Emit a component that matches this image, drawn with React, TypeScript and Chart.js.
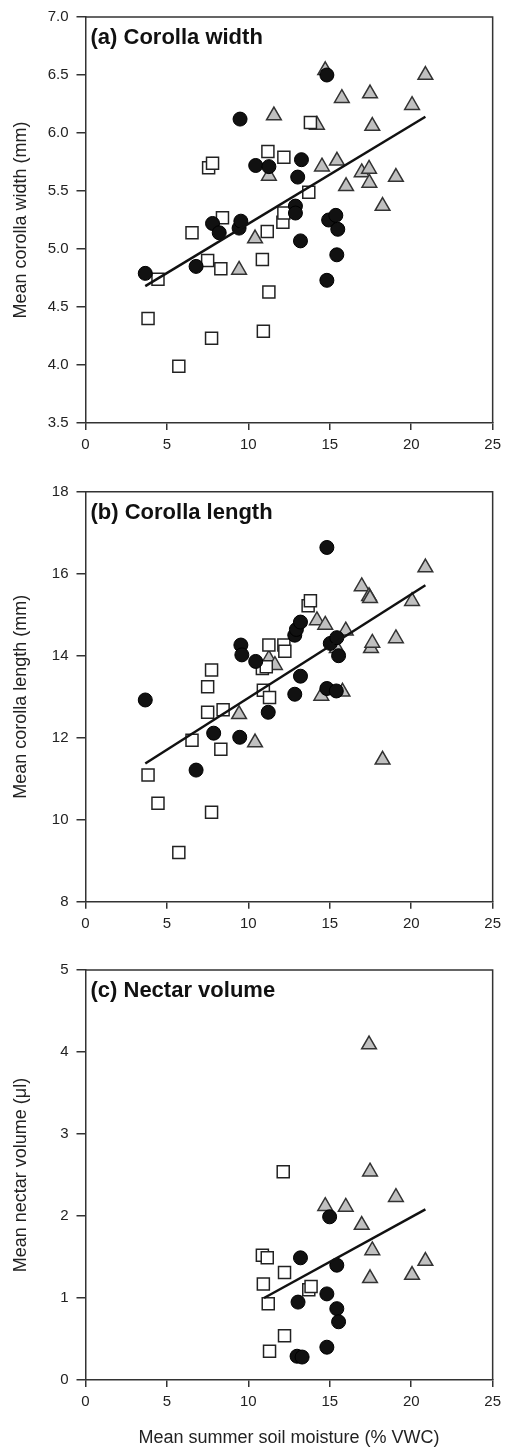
import React, { useEffect, useRef } from 'react';
import { Chart, registerables } from 'chart.js';

Chart.register(...registerables);

const FONT = '"Liberation Sans", Arial, sans-serif';

const xTicks = [0, 5, 10, 15, 20, 25];
const widthTicks = [3.5, 4.0, 4.5, 5.0, 5.5, 6.0, 6.5, 7.0];
const lengthTicks = [8, 10, 12, 14, 16, 18];
const nectarTicks = [0, 1, 2, 3, 4, 5];

// (a) Corolla width
const aCircleX = [3.67, 6.79, 7.8, 8.21, 9.43, 9.54, 9.49, 10.45, 11.26, 12.89, 12.89, 13.03, 13.26, 13.2, 14.82, 14.82, 14.93, 15.37, 15.43, 15.49];
const aCircleY = [4.79, 4.85, 5.22, 5.14, 5.18, 5.24, 6.12, 5.72, 5.71, 5.37, 5.31, 5.62, 5.77, 5.07, 6.5, 4.73, 5.25, 5.29, 4.95, 5.17];
const aSquareX = [3.84, 4.45, 5.73, 6.54, 7.5, 7.56, 7.74, 7.8, 8.31, 8.41, 10.86, 10.92, 11.16, 11.2, 11.26, 12.12, 12.18, 12.18, 13.71, 13.81];
const aSquareY = [4.4, 4.74, 3.99, 5.14, 4.9, 5.7, 4.23, 5.74, 4.83, 5.27, 4.91, 4.29, 5.15, 5.84, 4.63, 5.23, 5.31, 5.79, 5.49, 6.09];
const aTriX = [9.43, 10.41, 11.26, 11.57, 14.21, 14.52, 14.72, 15.44, 15.74, 16.0, 16.96, 17.41, 17.43, 17.47, 17.61, 18.24, 19.06, 20.05, 20.87];
const aTriY = [4.82, 5.09, 5.63, 6.15, 6.07, 5.71, 6.54, 5.76, 6.3, 5.54, 5.66, 5.69, 5.57, 6.34, 6.06, 5.37, 5.62, 6.24, 6.5];
const aFitX = [3.67, 20.87];
const aFitY = [4.68, 6.14];

// (b) Corolla length
const bCircleX = [3.67, 6.79, 7.87, 9.47, 9.54, 9.6, 10.45, 11.22, 12.85, 12.85, 12.95, 13.2, 13.2, 14.82, 14.82, 15.03, 15.4, 15.43, 15.54];
const bCircleY = [12.92, 11.21, 12.11, 12.01, 14.26, 14.02, 13.86, 12.62, 13.06, 14.5, 14.64, 14.82, 13.5, 16.64, 13.2, 14.3, 13.14, 14.44, 14.0];
const bSquareX = [3.84, 4.45, 5.73, 6.54, 7.5, 7.5, 7.74, 7.74, 8.31, 8.45, 10.86, 10.92, 11.1, 11.26, 11.3, 12.18, 12.24, 13.67, 13.81];
const bSquareY = [11.09, 10.4, 9.2, 11.94, 12.62, 13.24, 13.65, 10.18, 11.72, 12.68, 13.69, 13.16, 13.73, 14.26, 12.98, 14.26, 14.11, 15.22, 15.34];
const bTriX = [9.43, 10.41, 11.26, 11.63, 14.21, 14.48, 14.72, 15.43, 15.78, 15.98, 16.96, 17.41, 17.47, 17.53, 17.61, 18.24, 19.06, 20.05, 20.87];
const bTriY = [12.57, 11.88, 13.92, 13.77, 14.86, 13.02, 14.75, 14.18, 13.12, 14.61, 15.69, 15.45, 15.4, 14.18, 14.31, 11.46, 14.42, 15.33, 16.15];
const bFitX = [3.67, 20.87];
const bFitY = [11.37, 15.72];

// (c) Nectar volume
const cCircleX = [12.99, 13.05, 13.2, 13.3, 14.82, 14.82, 14.99, 15.43, 15.43, 15.54];
const cCircleY = [0.29, 0.95, 1.49, 0.28, 0.4, 1.05, 1.99, 1.4, 0.87, 0.71];
const cSquareX = [10.86, 10.92, 11.16, 11.22, 11.3, 12.14, 12.22, 12.22, 13.71, 13.85];
const cSquareY = [1.52, 1.17, 1.49, 0.93, 0.35, 2.54, 1.31, 0.54, 1.1, 1.14];
const cTriX = [14.72, 15.98, 16.96, 17.41, 17.47, 17.47, 17.61, 19.06, 20.05, 20.87];
const cTriY = [2.12, 2.11, 1.89, 4.09, 2.54, 1.24, 1.58, 2.23, 1.28, 1.45];
const cFitX = [10.96, 20.87];
const cFitY = [1.0, 2.08];

const pts = (xs: number[], ys: number[]) => xs.map((x, i) => ({ x, y: ys[i] }));

type PanelProps = {
  top: number;
  height: number;
  padTop: number;
  padBottom: number;
  xAxisH: number;
  label: string;
  yTitle: string;
  yTicks: number[];
  decimals: number;
  circles: { x: number; y: number }[];
  squares: { x: number; y: number }[];
  triangles: { x: number; y: number }[];
  fit: { x: number; y: number }[];
  xTitle?: string;
};

function Panel(p: PanelProps) {
  const ref = useRef<HTMLCanvasElement | null>(null);
  useEffect(() => {
    if (!ref.current) return;
    const framePlugin = {
      id: 'frame',
      beforeDatasetsDraw(chart: any) {
        const { ctx, chartArea } = chart;
        ctx.save();
        ctx.strokeStyle = '#333';
        ctx.lineWidth = 1.5;
        ctx.beginPath();
        ctx.moveTo(chartArea.left, chartArea.top);
        ctx.lineTo(chartArea.right, chartArea.top);
        ctx.lineTo(chartArea.right, chartArea.bottom);
        ctx.stroke();
        ctx.restore();
      },
      afterDraw(chart: any) {
        const { ctx, chartArea } = chart;
        ctx.save();
        ctx.fillStyle = '#111';
        ctx.font = 'bold 22px ' + FONT;
        ctx.textAlign = 'left';
        ctx.textBaseline = 'alphabetic';
        ctx.fillText(p.label, chartArea.left + 5, chartArea.top + 27);
        ctx.restore();
      },
    };
    const chart = new Chart(ref.current, {
      type: 'scatter',
      data: {
        datasets: [
          {
            data: p.fit,
            showLine: true,
            borderColor: '#111',
            borderWidth: 2.5,
            pointRadius: 0,
            fill: false,
          } as any,
          {
            data: p.circles,
            pointStyle: 'circle',
            pointRadius: 7,
            backgroundColor: '#111',
            borderColor: '#000',
            borderWidth: 1,
          },
          {
            data: p.squares,
            pointStyle: 'rect',
            pointRadius: 8.5,
            backgroundColor: '#fff',
            borderColor: '#222',
            borderWidth: 1.5,
          },
          {
            data: p.triangles,
            pointStyle: 'triangle',
            pointRadius: 8.5,
            backgroundColor: '#c0c0c0',
            borderColor: '#333',
            borderWidth: 1.5,
          },
        ],
      },
      options: {
        animation: false,
        responsive: false,
        devicePixelRatio: 1,
        layout: { padding: { top: p.padTop, bottom: p.padBottom, left: 6, right: 12 } },
        plugins: { legend: { display: false }, tooltip: { enabled: false } },
        scales: {
          x: {
            type: 'linear',
            min: 0,
            max: 25,
            afterBuildTicks: (ax: any) => {
              ax.ticks = xTicks.map((v) => ({ value: v }));
            },
            afterFit: (ax: any) => {
              ax.height = p.xAxisH;
            },
            ticks: {
              color: '#222',
              font: { family: FONT, size: 15 },
              padding: 6,
              maxRotation: 0,
              autoSkip: false,
              callback: (v: any) => String(v),
            },
            grid: { display: true, drawOnChartArea: false, drawTicks: true, tickLength: 7, color: '#333', lineWidth: 1.5 },
            border: { display: true, color: '#333', width: 1.5 },
            title: {
              display: !!p.xTitle,
              text: p.xTitle || '',
              color: '#222',
              font: { family: FONT, size: 18 },
              padding: { top: 0, bottom: 3 },
            },
          },
          y: {
            type: 'linear',
            min: p.yTicks[0],
            max: p.yTicks[p.yTicks.length - 1],
            afterBuildTicks: (ax: any) => {
              ax.ticks = p.yTicks.map((v) => ({ value: v }));
            },
            afterFit: (ax: any) => {
              ax.width = 79.5;
            },
            ticks: {
              color: '#222',
              font: { family: FONT, size: 15 },
              padding: 8,
              autoSkip: false,
              callback: (v: any) => Number(v).toFixed(p.decimals),
            },
            grid: { display: true, drawOnChartArea: false, drawTicks: true, tickLength: 9, color: '#333', lineWidth: 1.5 },
            border: { display: true, color: '#333', width: 1.5 },
            title: {
              display: true,
              text: p.yTitle,
              color: '#222',
              font: { family: FONT, size: 18 },
              padding: { top: 4, bottom: 0 },
            },
          },
        },
      } as any,
      plugins: [framePlugin],
    });
    return () => chart.destroy();
  }, []);
  return (
    <canvas
      ref={ref}
      width={507}
      height={p.height}
      style={{ position: 'absolute', left: 0, top: p.top, width: 507, height: p.height, display: 'block' }}
    />
  );
}

export default function App() {
  return (
    <div style={{ position: 'absolute', left: 0, top: 0, width: 507, height: 1452, background: '#fff', overflow: 'hidden' }}>
      <Panel
        top={0}
        height={460}
        padTop={14}
        padBottom={7}
        xAxisH={30}
        label="(a) Corolla width"
        yTitle="Mean corolla width (mm)"
        yTicks={widthTicks}
        decimals={1}
        circles={pts(aCircleX, aCircleY)}
        squares={pts(aSquareX, aSquareY)}
        triangles={pts(aTriX, aTriY)}
        fit={pts(aFitX, aFitY)}
      />
      <Panel
        top={460}
        height={480}
        padTop={31.7}
        padBottom={8.3}
        xAxisH={30}
        label="(b) Corolla length"
        yTitle="Mean corolla length (mm)"
        yTicks={lengthTicks}
        decimals={0}
        circles={pts(bCircleX, bCircleY)}
        squares={pts(bSquareX, bSquareY)}
        triangles={pts(bTriX, bTriY)}
        fit={pts(bFitX, bFitY)}
      />
      <Panel
        top={940}
        height={512}
        padTop={30}
        padBottom={0}
        xAxisH={72}
        label="(c) Nectar volume"
        yTitle="Mean nectar volume (μl)"
        yTicks={nectarTicks}
        decimals={0}
        circles={pts(cCircleX, cCircleY)}
        squares={pts(cSquareX, cSquareY)}
        triangles={pts(cTriX, cTriY)}
        fit={pts(cFitX, cFitY)}
        xTitle="Mean summer soil moisture (% VWC)"
      />
    </div>
  );
}
